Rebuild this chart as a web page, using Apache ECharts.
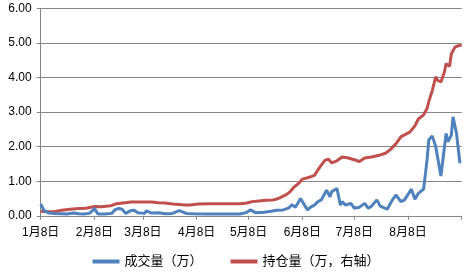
<!DOCTYPE html>
<html><head><meta charset="utf-8">
<script src="https://cdn.jsdelivr.net/npm/echarts@6/dist/echarts.min.js"></script>
<style>html,body{margin:0;padding:0;background:#fff}#c{width:472px;height:273px}</style>
</head><body><div id="c"></div>
<script>
// Tick labels (month marks)
const tickLabels = ['1月8日','2月8日','3月8日','4月8日','5月8日','6月8日','7月8日','8月8日'];
const axisEnd = '9月8日';
const yTicks = [0,1,2,3,4,5,6];

// 成交量（万）
const volDates = ['1月8日','1月10日','1月13日','1月16日','1月20日','1月23日','1月27日','1月30日','2月2日','2月5日','2月7日','2月8日','2月10日','2月14日','2月18日','2月20日','2月22日','2月24日','2月26日','3月1日','3月3日','3月5日','3月9日','3月10日','3月13日','3月17日','3月21日','3月25日','3月29日','4月2日','4月6日','4月13日','4月20日','4月27日','5月3日','5月7日','5月9日','5月12日','5月17日','5月21日','5月24日','5月28日','5月31日','6月2日','6月4日','6月7日','6月9日','6月11日','6月13日','6月15日','6月17日','6月19日','6月22日','6月24日','6月25日','6月28日','6月30日','7月1日','7月3日','7月6日','7月8日','7月11日','7月14日','7月16日','7月18日','7月21日','7月23日','7月24日','7月27日','7月30日','8月1日','8月4日','8月6日','8月7日','8月10日','8月12日','8月14日','8月17日','8月19日','8月20日','8月22日','8月24日','8月27日','8月30日','8月31日','9月2日','9月3日','9月5日','9月7日'];
const volValues = [0.34,0.15,0.08,0.07,0.06,0.05,0.08,0.06,0.05,0.07,0.15,0.22,0.05,0.05,0.07,0.18,0.21,0.19,0.07,0.15,0.16,0.09,0.07,0.14,0.08,0.09,0.06,0.07,0.15,0.07,0.06,0.05,0.05,0.05,0.05,0.10,0.17,0.09,0.10,0.13,0.16,0.17,0.22,0.32,0.25,0.50,0.33,0.17,0.26,0.31,0.41,0.46,0.74,0.55,0.70,0.79,0.31,0.41,0.31,0.36,0.22,0.25,0.36,0.22,0.28,0.46,0.28,0.31,0.19,0.46,0.60,0.41,0.46,0.43,0.77,0.48,0.65,0.77,1.61,2.19,2.31,2.00,1.15,2.38,2.14,2.33,2.86,2.38,1.52];

// 持仓量（万，右轴）
const oiDates = ['1月8日','1月12日','1月16日','1月20日','1月25日','1月30日','2月3日','2月6日','2月8日','2月12日','2月16日','2月18日','2月20日','2月23日','2月26日','3月1日','3月5日','3月9日','3月13日','3月17日','3月21日','3月25日','3月29日','4月1日','4月4日','4月9日','4月15日','4月22日','4月29日','5月3日','5月7日','5月10日','5月14日','5月18日','5月22日','5月24日','5月26日','5月28日','5月30日','6月1日','6月3日','6月6日','6月8日','6月11日','6月13日','6月15日','6月18日','6月21日','6月23日','6月25日','6月28日','7月1日','7月4日','7月8日','7月11日','7月14日','7月18日','7月23日','7月26日','7月29日','8月1日','8月4日','8月9日','8月12日','8月14日','8月17日','8月19日','8月20日','8月22日','8月24日','8月25日','8月27日','8月29日','8月30日','9月1日','9月2日','9月4日','9月6日','9月8日'];
const oiValues = [0.13,0.12,0.12,0.16,0.19,0.21,0.22,0.25,0.27,0.26,0.28,0.30,0.34,0.36,0.38,0.40,0.40,0.40,0.40,0.38,0.37,0.34,0.33,0.31,0.31,0.34,0.35,0.35,0.35,0.35,0.37,0.41,0.43,0.45,0.46,0.48,0.52,0.57,0.62,0.70,0.82,0.94,1.06,1.10,1.13,1.17,1.40,1.60,1.64,1.53,1.59,1.70,1.68,1.62,1.57,1.67,1.70,1.76,1.81,1.92,2.08,2.29,2.42,2.60,2.80,2.92,3.10,3.30,3.62,4.02,3.92,3.87,4.15,4.40,4.32,4.68,4.87,4.92,4.93];

// calendar-day categories for the date axis
const days = [];
for (let d = new Date(2013,0,8); d <= new Date(2013,8,8); d.setDate(d.getDate()+1)) {
  days.push((d.getMonth()+1) + '月' + d.getDate() + '日');
}
const pair = (ds, vs) => ds.map((d,i) => [d, vs[i]]);

const font = "'Liberation Sans','Noto Sans CJK SC',sans-serif";
const chart = echarts.init(document.getElementById('c'), null, {renderer:'canvas'});
chart.setOption({
  animation: false,
  backgroundColor: '#fff',
  grid: {left: 40.7, right: 10.3, top: 8.3, bottom: 57.2, containLabel: false},
  xAxis: {
    type: 'category', data: days, boundaryGap: false,
    axisLine: {lineStyle: {color: '#868686', width: 1}},
    axisTick: {show: true, length: 4, lineStyle: {color: '#868686'},
      interval: (i, v) => tickLabels.includes(v) || v === axisEnd},
    axisLabel: {color: '#000', fontSize: 12, fontFamily: font, margin: 11,
      interval: (i, v) => tickLabels.includes(v)},
    splitLine: {show: false}
  },
  yAxis: {
    type: 'value', min: yTicks[0], max: yTicks[yTicks.length-1], interval: 1,
    axisLine: {show: true, lineStyle: {color: '#868686', width: 1}},
    axisTick: {show: true, length: 4, lineStyle: {color: '#868686'}},
    axisLabel: {color: '#000', fontSize: 12, fontFamily: font, margin: 9,
      formatter: v => v.toFixed(2)},
    splitLine: {show: true, lineStyle: {color: '#868686', width: 1}}
  },
  legend: {
    bottom: 0, left: 'center', itemGap: 28, itemWidth: 27, itemHeight: 4,
    textStyle: {color: '#000', fontSize: 13, fontFamily: font},
    data: [{name: '成交量（万）', icon: 'rect'}, {name: '持仓量（万，右轴）', icon: 'rect'}]
  },
  series: [
    {name: '成交量（万）', type: 'line', data: pair(volDates, volValues), showSymbol: false,
     lineStyle: {color: '#4F81BD', width: 3}, itemStyle: {color: '#4F81BD'}, z: 3},
    {name: '持仓量（万，右轴）', type: 'line', data: pair(oiDates, oiValues), showSymbol: false,
     lineStyle: {color: '#C0504D', width: 3}, itemStyle: {color: '#C0504D'}, z: 2}
  ]
});
</script></body></html>
